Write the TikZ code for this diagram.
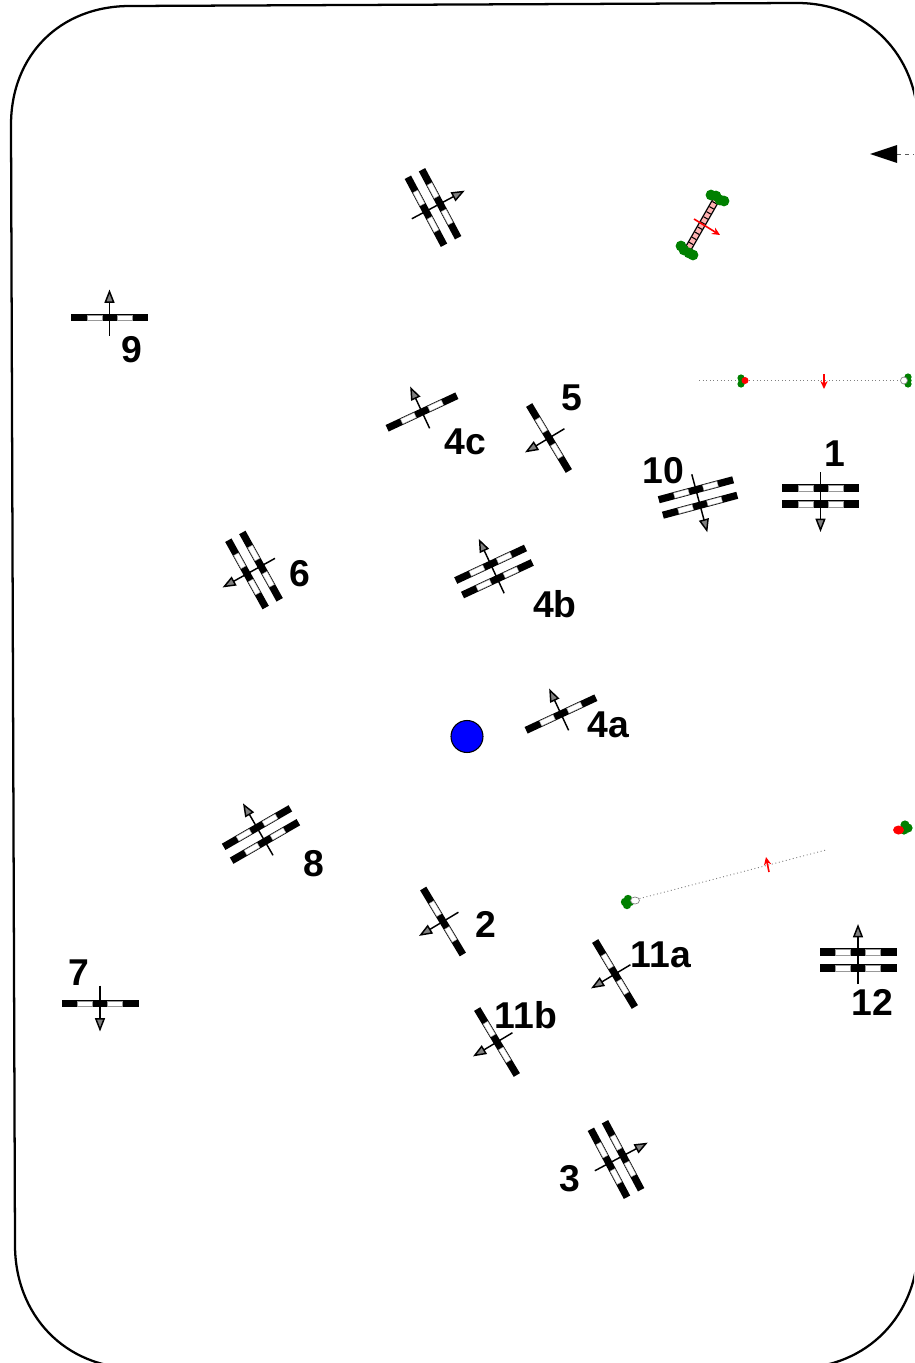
\documentclass[tikz,border=0pt]{standalone}
\usepackage{fontspec}
\setmainfont{Liberation Sans}
\usetikzlibrary{arrows.meta}

\newcommand{\camstrip}[1]{%
    \fill[barblack] (-38.5,#1-3.6) rectangle (38.5,#1+3.6);
    \draw[barwhite] (-22.5,#1-2.7) rectangle (-7.5,#1+2.7);
    \draw[barwhite] (7.5,#1-2.7) rectangle (22.5,#1+2.7);
}

\tikzset{
    barblack/.style={fill=black, draw=none},
    barwhite/.style={fill=white, draw=gray!80, line width=0.3pt},
    stem/.style={-{Triangle[fill=gray, length=10pt, width=7.5pt]}, line width=1.1pt, black},
    redtip/.style={-{Stealth[length=6pt, width=5.5pt]}, red, line width=1.2pt},
    strip/.style={dotted, gray, line width=0.7pt},
    bush/.style={fill=green!50!black, draw=none},
    label/.style={font=\bfseries\fontsize{28}{28}\selectfont, inner sep=0pt},
    pics/singlecam/.style={code={
        \camstrip{0}
        \draw[stem] (0,18) -- (0,-28);
    }},
    pics/doublecam/.style={code={
        \camstrip{-8}
        \camstrip{8}
        \draw[stem] (0,24) -- (0,-36);
    }}
}

\begin{document}
\begin{tikzpicture}[x=0.75pt, y=-0.75pt]
    \useasboundingbox (0,0) rectangle (914,1363);
    \clip (0,0) rectangle (914,1363);

    % Room outline, runs off the page on the right and at the bottom
    \draw[line width=1.7pt] (11,125) .. controls (11,55) and (60,6) .. (130,6)
        -- (797,3) .. controls (867,3) and (918,55) .. (918,125)
        -- (918,1245) .. controls (918,1315) and (867,1368) .. (797,1368)
        -- (135,1368) .. controls (65,1368) and (15,1315) .. (15,1245) -- cycle;

    % Single bar cameras: x, y, rotation
    \foreach \x/\y/\r in {109.5/317.5/0, 100/1003.5/180, 422/412/25, 549/438/121,
                          561/714/25, 443/921.5/121, 615/974/121, 497/1042/121}
        \pic[rotate=\r] at (\x,\y) {singlecam};

    % Double bar cameras: x, y, rotation
    \foreach \x/\y/\r in {433/207.5/-62, 616/1159.5/-62, 254/570/119, 494/571.5/25,
                          261/834.5/30, 698/497.5/195, 820.5/496/180, 858/960/0}
        \pic[rotate=\r] at (\x,\y) {doublecam};

    % Labels
    \foreach \x/\y/\t in {132/350/9, 572/398/5, 465/442/4c, 663/471/10, 835/454/1,
                          300/573.5/6, 555/604/4b, 608/725/4a, 314/864/8, 486/924/2,
                          661/955/11a, 526/1015/11b, 872/1002/12, 79/973/7, 570/1179/3}
        \node[label] (lbl\t) at (\x,\y) {\t};

    % Main subject
    \filldraw[fill=blue, draw=black, line width=0.8pt] (467,736.5) circle (16);

    % Arrow at the right edge
    \draw[dashed, gray!70!black, line width=0.6pt] (897,154) -- (914,154);
    \fill[black] (870,154) -- (897,145) -- (897,163) -- cycle;

    % Tube light with ladder pattern
    \draw[black, line width=5.6pt] (688,249) -- (716,200);
    \draw[red!30!white, line width=3.6pt] (688,249) -- (716,200);
    \draw[black, line width=3.6pt, dash pattern=on 0.8pt off 3.6pt] (688,249) -- (716,200);
    \foreach \x/\y in {711/195, 716/196, 720/200, 724/201, 681/246, 684/250, 689/253, 693/255}
        \fill[bush] (\x,\y) circle (5.4);
    \draw[redtip] (694,219) -- (720,235);

    % Strip light, horizontal
    \draw[strip] (699,380.5) -- (900,380.5);
    \foreach \x/\y in {741/378, 742/380.5, 741/384, 908/377, 908/380.5, 908/384}
        \fill[bush] (\x,\y) circle (3.6);
    \fill[red] (745,380.5) circle (3.5);
    \filldraw[fill=white, draw=gray, line width=0.5pt] (904,380.5) circle (3.5);
    \draw[redtip] (824,374) -- (824,389);

    % Strip light, slanted
    \draw[strip] (636,899.5) -- (826,850);
    \foreach \x/\y in {625/902, 628/899, 627/905, 630/902}
        \fill[bush] (\x,\y) circle (4.2);
    \filldraw[fill=white, draw=gray, line width=0.5pt] (635,900.5) ellipse (4.5 and 3.5);
    \foreach \x/\y in {905/825, 908/828, 904/830}
        \fill[bush] (\x,\y) circle (4.6);
    \fill[red] (898.5,830) ellipse (5.5 and 4.5);
    \draw[redtip] (769,872) -- (766,857);
\end{tikzpicture}
\end{document}
